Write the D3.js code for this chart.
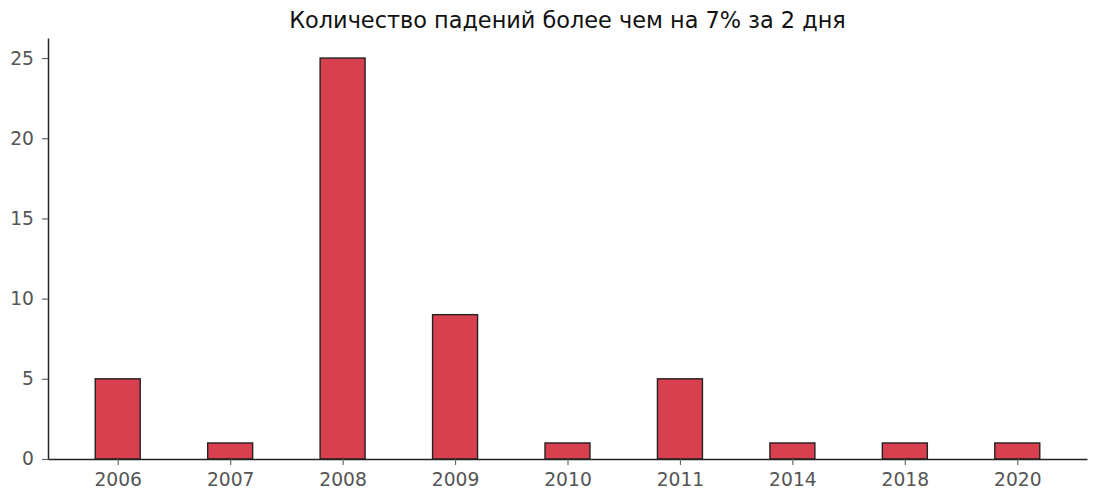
<!DOCTYPE html>
<html><head><meta charset="utf-8">
<script src="https://cdn.jsdelivr.net/npm/d3@7"></script>
<style>body{margin:0;background:#fff}svg{display:block}</style>
</head><body>
<script>
const years = ["2006","2007","2008","2009","2010","2011","2014","2018","2020"];
const counts = [5,1,25,9,1,5,1,1,1];
const yTicks = [0,5,10,15,20,25];
const title = "Количество падений более чем на 7% за 2 дня";

const W=1100,H=502;
const m={left:48,right:1087,top:38,bottom:459};
const svg=d3.select("body").append("svg").attr("width",W).attr("height",H)
  .style("font-family","'DejaVu Sans', sans-serif");

const x=d3.scaleLinear().domain([-0.62, years.length-1+0.62]).range([m.left,m.right]);
const y=d3.scaleLinear().domain([0,26.25]).range([m.bottom,m.top]);
const bw=0.4;

svg.append("g").selectAll("rect").data(counts).join("rect")
  .attr("x",(d,i)=>x(i-bw/2)).attr("width",(d,i)=>x(i+bw/2)-x(i-bw/2))
  .attr("y",d=>y(d)).attr("height",d=>y(0)-y(d))
  .attr("fill","#d84050").attr("stroke","#222").attr("stroke-width",1.4);

const xa=svg.append("g").attr("transform",`translate(0,${m.bottom})`)
  .call(d3.axisBottom(x).tickValues(d3.range(years.length)).tickFormat(i=>years[i]).tickSize(6).tickPadding(8).tickSizeOuter(0));
const ya=svg.append("g").attr("transform",`translate(${m.left},0)`)
  .call(d3.axisLeft(y).tickValues(yTicks).tickSize(6).tickPadding(8).tickSizeOuter(0));
[xa,ya].forEach(a=>{
  a.select(".domain").attr("stroke","#222").attr("stroke-width",1.5);
  a.selectAll(".tick line").attr("stroke","#666").attr("stroke-width",1.2);
  a.selectAll(".tick text").attr("fill","#555").style("font-size","18.7px").style("font-family","'DejaVu Sans', sans-serif");
});

svg.append("text").attr("x",(m.left+m.right)/2).attr("y",28).attr("text-anchor","middle")
  .style("font-size","22.4px").attr("fill","#111").text(title);
</script>
</body></html>
